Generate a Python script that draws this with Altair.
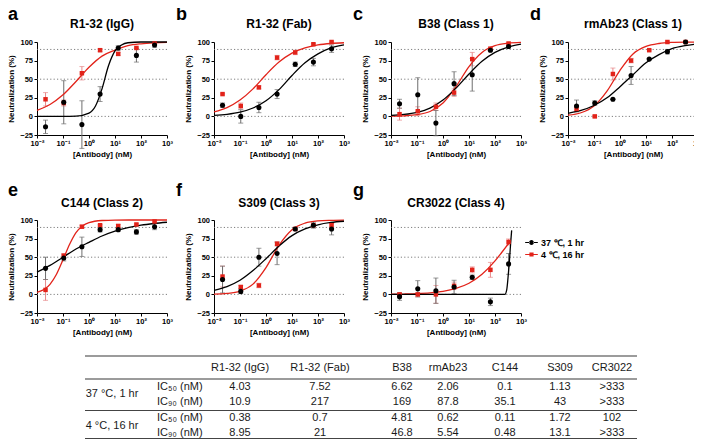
import altair as alt
import pandas as pd

FONT = "Liberation Sans"
BLACK = "#000000"
RED = "#e2231a"
ERR_BLACK = "#6e6e6e"
ERR_RED = "#e8898a"
DOT = "#7f7f7f"

W, H = 130, 93
COL_GAP = 47

series = ["37 \u2103, 1 hr", "4 \u2103, 16 hr"]
conc = [0.0213, 0.107, 0.533, 2.67, 13.3, 66.6, 333]
x_ticks = [0.01, 0.1, 1, 10, 100, 1000]
y_ticks = [-25, 0, 25, 50, 75, 100]
ref_lines = [0, 50, 90]
grid_x = [0.01, 0.0316, 0.1, 0.316, 1, 3.16, 10, 31.6, 100, 316, 1000]

# ---- panel a : R1-32 (IgG)
a_37_mean = [-14, 19, -11, 30, 92, 82, 96]
a_37_sd = [9, 29, 32, 10, 3, 9, 3]
a_4_mean = [23, 18, 58, 89, 84, 92, 98]
a_4_sd = [9, 4, 9, 2, 2, 1, 1]
a_37_cx = [0.01, 0.1, 0.316, 1, 1.78, 3.16, 5.62, 10, 17.8, 31.6, 100, 1000]
a_37_cy = [0, 0, 0.4, 4.5, 14, 37, 68, 88, 96, 99, 100, 100]
a_4_cy = [8, 16, 29, 47, 66, 81, 89, 95, 97.6, 98.9, 99.5]

# ---- panel b : R1-32 (Fab)
b_37_mean = [15, 0, 12, 30, 70, 73, 91]
b_37_sd = [3, 9, 7, 6, 3, 5, 5]
b_4_mean = [30, 14, 39, 79, 86, 97, 100]
b_4_sd = [1, 4, 2, 3, 3, 1, 1]
b_37_cy = [1.3, 2.8, 5.7, 11.3, 21, 36, 55, 72, 84, 92, 96]
b_4_cy = [6, 11.8, 22, 37, 56, 73, 85, 92, 96, 98, 99]

# ---- panel c : B38
c_37_mean = [17, 29, -9, 44, 56, 89, 94]
c_37_sd = [6, 23, 17, 16, 22, 2, 2]
c_4_mean = [3, 7, 13, 32, 77, 91, 98]
c_4_sd = [8, 6, 5, 5, 9, 2, 1]
c_37_cy = [1.2, 2.6, 5.5, 11.2, 22, 38, 57, 74, 86, 93, 97]
c_4_cy = [0.25, 0.75, 2.3, 6.6, 18, 40, 67, 86, 95, 98.3, 99.4]

# ---- panel d : rmAb23
d_37_mean = [14, 18, 23, 55, 77, 87, 100]
d_37_sd = [8, 3, 0, 12, 1, 3, 1]
d_4_mean = [10, 0, 57, 75, 89, 100, 100]
d_4_sd = [3, 1, 8, 3, 1, 1, 1]
d_37_cy = [4.2, 8, 14.6, 25, 40, 56, 72, 83, 91, 95, 97.4]
d_4_cy = [1.6, 4.9, 14, 34, 62, 84, 94, 98, 99.4, 99.8, 99.9]

# ---- panel e : C144
e_37_mean = [35, 49, 64, 87, 87, 84, 91]
e_37_sd = [15, 4, 13, 3, 2, 3, 4]
e_4_mean = [6, 52, 91, 93, 92, 94, 98]
e_4_sd = [14, 3, 2, 1, 2, 1, 1]
e_37_cy = [30, 39, 50, 61, 70, 78.5, 85, 89.6, 93, 95.3, 97]
e_4_cx = [0.01, 0.0316, 0.0562, 0.1, 0.178, 0.316, 0.562, 1, 3.16, 10, 100, 1000]
e_4_cy = [2.7, 13.5, 27, 46.5, 67, 83, 92, 96.4, 99.3, 99.9, 100, 100]

# ---- panel f : S309
f_37_mean = [20, 4, 50, 55, 88, 93, 88]
f_37_sd = [18, 3, 12, 15, 2, 4, 8]
f_4_mean = [24, 10, 12, 68, 88, 93, 93]
f_4_sd = [14, 2, 3, 3, 1, 1, 2]
f_37_cy = [5.5, 10.5, 19, 32, 48, 65, 79, 88, 93.6, 96.7, 98.3]
f_4_cy = [0.4, 1.3, 4.4, 13.8, 36, 66, 87, 95.8, 98.8, 99.6, 99.9]

# ---- panel g : CR3022
g_37_mean = [-3, 7.5, 5, 10, 23, -10, 41]
g_37_sd = [5, 11, 17, 9, 3, 5, 14]
g_4_mean = [0, 0, 0, 11.5, 33, 33, 70.5]
g_4_sd = [2, 2, 12, 5, 4, 10, 4]
g_37_cx = [0.01, 1, 100, 240, 282, 316, 355, 398, 437]
g_37_cy = [0, 0, 0, 0, 6, 22, 43, 68, 86]
g_4_cx = [0.01, 0.0316, 0.1, 0.316, 1, 3.16, 10, 31.6, 100, 178, 398]
g_4_cy = [0.2, 0.5, 1, 2, 4, 8, 15, 27, 45, 56, 72]

# ---- table
col_names = ["R1-32 (IgG)", "R1-32 (Fab)", "B38", "rmAb23", "C144", "S309", "CR3022"]
ic50_37 = ["4.03", "7.52", "6.62", "2.06", "0.1", "1.13", ">333"]
ic90_37 = ["10.9", "217", "169", "87.8", "35.1", "43", ">333"]
ic50_4 = ["0.38", "0.7", "4.81", "0.62", "0.11", "1.72", "102"]
ic90_4 = ["8.95", "21", "46.8", "5.54", "0.48", "13.1", ">333"]
group_labels = ["37 \u00b0C, 1 hr", "4 \u00b0C, 16 hr"]
ic_labels = ["IC\u2085\u2080 (nM)", "IC\u2089\u2080 (nM)", "IC\u2085\u2080 (nM)", "IC\u2089\u2080 (nM)"]

# table layout (pixels inside the table block)
TW, TH = 600, 83
t_col_x = [203, 283, 365, 411, 468, 523, 575]
t_row_y = [11.5, 30.5, 45.5, 62, 76.5]
t_group_x = 75
t_group_y = [38, 69.5]
t_ic_x = 120
t_line_x = [48, 600]
t_thick_y = [0, 23]
t_thin_y = [54.5, 82.5]

X_LABELS = ("'10' + ['\u207b\u00b2','\u207b\u00b9','\u2070','\u00b9','\u00b2','\u00b3']"
            "[round(log(datum.value)/LN10) + 2]")

PATH_C = ("M-1,-0.08H-0.3V0.08H-1Z M0.3,-0.08H1V0.08H0.3Z "
          "M-0.38,0A0.38,0.38 0 1,0 0.38,0A0.38,0.38 0 1,0 -0.38,0Z")
PATH_S = ("M-1,-0.08H-0.3V0.08H-1Z M0.3,-0.08H1V0.08H0.3Z "
          "M-0.33,-0.33H0.33V0.33H-0.33Z")


def pts_df(mean, sd):
    return pd.DataFrame({"conc": conc, "mean": mean,
                         "lo": [m - s for m, s in zip(mean, sd)],
                         "hi": [m + s for m, s in zip(mean, sd)]})


def caps_df(mean, sd):
    lo = [m - s for m, s in zip(mean, sd)]
    hi = [m + s for m, s in zip(mean, sd)]
    return pd.DataFrame({"conc": conc + conc, "cap": lo + hi})


def panel(letter, name, m37, s37, m4, s4, cx37, cy37, cx4, cy4,
          letter_x, letter_y, name_y, legend=False):
    xs = alt.Scale(type="log", domain=[0.01, 1000], nice=False)
    ys = alt.Scale(domain=[-25, 100], nice=False, zero=False)
    xax = alt.Axis(values=x_ticks, labelExpr=X_LABELS, title="[Antibody] (nM)",
                   labelFlush=False, labelOverlap=False)
    yax = alt.Axis(values=y_ticks, title="Neutralization (%)", labelOverlap=False)

    def X(f):
        return alt.X(f, type="quantitative", scale=xs, axis=xax)

    def Y(f):
        return alt.Y(f, type="quantitative", scale=ys, axis=yax)

    layers = [
        alt.Chart(pd.DataFrame({"v": ref_lines})).mark_rule(
            color=DOT, strokeDash=[1.2, 2.2], strokeWidth=1).encode(y=Y("v"))
    ]
    for mean, sd, ecol in [(m4, s4, ERR_RED), (m37, s37, ERR_BLACK)]:
        layers.append(alt.Chart(pts_df(mean, sd)).mark_rule(color=ecol, strokeWidth=1)
                      .encode(x=X("conc"), y=Y("lo"), y2="hi"))
        layers.append(alt.Chart(caps_df(mean, sd)).mark_tick(
            color=ecol, orient="horizontal", size=5, thickness=1)
            .encode(x=X("conc"), y=Y("cap")))
    layers.append(alt.Chart(pd.DataFrame({"x": cx4, "y": cy4})).mark_line(
        color=RED, strokeWidth=1.3, interpolate="monotone").encode(x=X("x"), y=Y("y")))
    layers.append(alt.Chart(pd.DataFrame({"x": cx37, "y": cy37})).mark_line(
        color=BLACK, strokeWidth=1.3, interpolate="monotone").encode(x=X("x"), y=Y("y")))
    layers.append(alt.Chart(pts_df(m4, s4)).mark_square(color=RED, size=20, opacity=1)
                  .encode(x=X("conc"), y=Y("mean")))
    layers.append(alt.Chart(pts_df(m37, s37)).mark_circle(color=BLACK, size=26, opacity=1)
                  .encode(x=X("conc"), y=Y("mean")))
    layers.append(alt.Chart(pd.DataFrame({"t": [letter]})).mark_text(
        font=FONT, fontSize=18, fontWeight="bold", align="left",
        baseline="alphabetic", color=BLACK)
        .encode(x=alt.value(letter_x), y=alt.value(letter_y), text="t:N"))
    layers.append(alt.Chart(pd.DataFrame({"t": [name]})).mark_text(
        font=FONT, fontSize=12, fontWeight="bold", align="center",
        baseline="alphabetic", color=BLACK)
        .encode(x=alt.value(W / 2), y=alt.value(name_y), text="t:N"))
    if legend:
        # the legend is placed by the top-level view (origin = panel a plot corner)
        lg = alt.Legend(orient="none", legendX=488, legendY=194, title=None,
                        symbolSize=160, symbolStrokeWidth=0, labelFont=FONT,
                        labelFontSize=9, labelFontWeight="bold", labelColor=BLACK,
                        rowPadding=0, padding=0, labelOffset=3)
        layers.append(alt.Chart(pd.DataFrame({"lg": series})).transform_filter("false")
                      .mark_point(filled=True, opacity=1).encode(
            color=alt.Color("lg:N", scale=alt.Scale(domain=series, range=[BLACK, RED]), legend=lg),
            shape=alt.Shape("lg:N", scale=alt.Scale(domain=series, range=[PATH_C, PATH_S]), legend=lg)))
    return alt.layer(*layers).properties(width=W, height=H)


TOP_Y, BOT_Y = -22, -24
pa = panel("a", "R1-32 (IgG)", a_37_mean, a_37_sd, a_4_mean, a_4_sd,
           a_37_cx, a_37_cy, grid_x, a_4_cy, -29, TOP_Y, -14)
pb = panel("b", "R1-32 (Fab)", b_37_mean, b_37_sd, b_4_mean, b_4_sd,
           grid_x, b_37_cy, grid_x, b_4_cy, -38, TOP_Y, -14)
pc = panel("c", "B38 (Class 1)", c_37_mean, c_37_sd, c_4_mean, c_4_sd,
           grid_x, c_37_cy, grid_x, c_4_cy, -38, TOP_Y, -14)
pdd = panel("d", "rmAb23 (Class 1)", d_37_mean, d_37_sd, d_4_mean, d_4_sd,
            grid_x, d_37_cy, grid_x, d_4_cy, -38, TOP_Y, -14)
pe = panel("e", "C144 (Class 2)", e_37_mean, e_37_sd, e_4_mean, e_4_sd,
           grid_x, e_37_cy, e_4_cx, e_4_cy, -29, BOT_Y, -13)
pf = panel("f", "S309 (Class 3)", f_37_mean, f_37_sd, f_4_mean, f_4_sd,
           grid_x, f_37_cy, grid_x, f_4_cy, -38, BOT_Y, -13)
pg = panel("g", "CR3022 (Class 4)", g_37_mean, g_37_sd, g_4_mean, g_4_sd,
           g_37_cx, g_37_cy, g_4_cx, g_4_cy, -38, BOT_Y, -13, legend=True)

# ---- table block
tx = alt.Scale(domain=[0, TW], nice=False, zero=False)
ty = alt.Scale(domain=[0, TH], nice=False, zero=False, reverse=True)
TX = lambda f: alt.X(f, type="quantitative", scale=tx, axis=None)
TY = lambda f: alt.Y(f, type="quantitative", scale=ty, axis=None)

cells = []
for r, vals in enumerate([col_names, ic50_37, ic90_37, ic50_4, ic90_4]):
    for c, v in enumerate(vals):
        cells.append({"x": t_col_x[c], "y": t_row_y[r], "t": v})
cells_df = pd.DataFrame(cells)
groups_df = pd.DataFrame({"x": [t_group_x] * 2, "y": t_group_y, "t": group_labels})
ic_df = pd.DataFrame({"x": [t_ic_x] * 4, "y": t_row_y[1:], "t": ic_labels})
thick_df = pd.DataFrame({"x1": [t_line_x[0]] * 2, "x2": [t_line_x[1]] * 2, "y": t_thick_y})
thin_df = pd.DataFrame({"x1": [t_line_x[0]] * 2, "x2": [t_line_x[1]] * 2, "y": t_thin_y})

txt = dict(font=FONT, fontSize=11, color="#1a1a1a", baseline="middle")
table = alt.layer(
    alt.Chart(thick_df).mark_rule(color="#9b9b9b", strokeWidth=2).encode(x=TX("x1"), x2="x2", y=TY("y")),
    alt.Chart(thin_df).mark_rule(color="#444444", strokeWidth=1).encode(x=TX("x1"), x2="x2", y=TY("y")),
    alt.Chart(cells_df).mark_text(align="center", **txt).encode(x=TX("x"), y=TY("y"), text="t:N"),
    alt.Chart(groups_df).mark_text(align="center", **txt).encode(x=TX("x"), y=TY("y"), text="t:N"),
    alt.Chart(ic_df).mark_text(align="left", **txt).encode(x=TX("x"), y=TY("y"), text="t:N"),
).properties(width=TW, height=TH)

row1 = alt.hconcat(pa, pb, pc, pdd, spacing=COL_GAP, bounds="flush")
row2 = alt.hconcat(pe, pf, pg, spacing=COL_GAP, bounds="flush")
plots = alt.vconcat(row1, row2, spacing=24)

chart = alt.vconcat(plots, table, spacing=19).properties(
    autosize=alt.AutoSizeParams(type="none"),
    padding={"left": 29, "top": 34, "right": 657, "bottom": 398},
).configure_view(stroke=None).configure_axis(
    labelFont=FONT, titleFont=FONT, labelFontSize=7.5, titleFontSize=8,
    labelFontWeight="bold", titleFontWeight="bold", labelColor=BLACK,
    titleColor=BLACK, domainColor=BLACK, tickColor=BLACK, domainWidth=1,
    tickWidth=1, tickSize=3, grid=False, labelPadding=1.5, titlePadding=3,
).configure_axisY(titlePadding=4)

chart.save("out.html", embed_options={"renderer": "svg", "actions": False})
